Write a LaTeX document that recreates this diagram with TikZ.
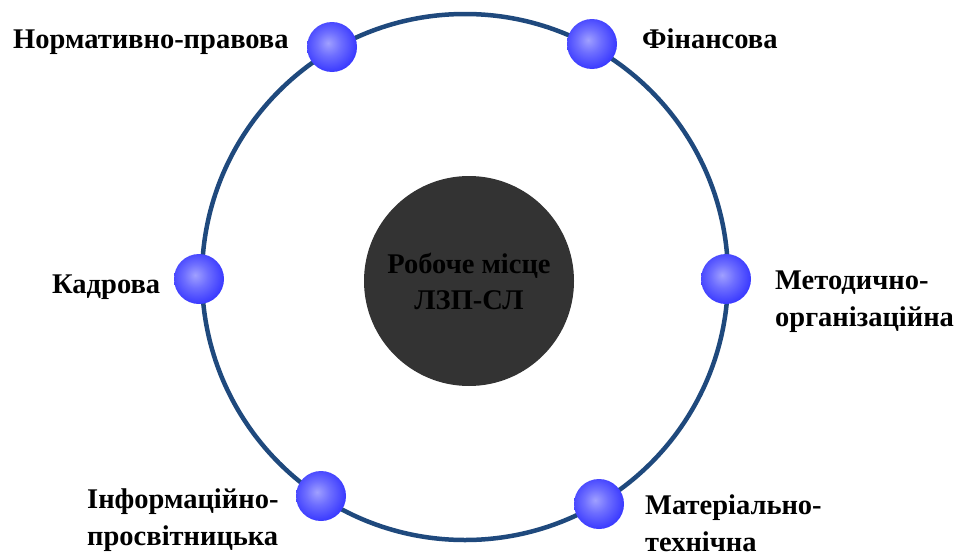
\documentclass[tikz,border=0pt]{standalone}
\usepackage{fontspec}
\setmainfont{Liberation Serif}
\definecolor{ringblue}{RGB}{31,73,125}
\definecolor{hubgray}{RGB}{51,51,51}
\definecolor{balllight}{RGB}{160,160,255}
\definecolor{ballmid}{RGB}{110,110,255}
\definecolor{balledge}{RGB}{20,20,255}
\pgfdeclareradialshading{blueball}{\pgfpoint{-4bp}{4bp}}{%
  color(0bp)=(balllight); color(12bp)=(ballmid); color(38bp)=(balledge); color(60bp)=(balledge)}
\tikzset{
  ball/.style={circle, minimum size=50pt, inner sep=0pt, shading=blueball},
  lbl/.style={font=\fontsize{28.5}{36.5}\selectfont\bfseries, inner sep=0pt, align=left, anchor=base west},
  hub/.style={circle, fill=hubgray, minimum size=210pt, inner sep=0pt,
    font=\fontsize{28.5}{36}\selectfont\bfseries, align=center, text=black}
}
\begin{document}
\begin{tikzpicture}[x=1pt,y=-1pt]
\useasboundingbox (0,0) rectangle (958,554);
\draw[ringblue, line width=4.5pt] (465,277) circle[radius=263];
\node[hub] (hub) at (469,281) {Робоче місце\\ЛЗП-СЛ};
\node[ball] (b1) at (332,47) {};
\node[ball] (b2) at (592,44) {};
\node[ball] (b3) at (199,279) {};
\node[ball] (b4) at (726,279) {};
\node[ball] (b5) at (321,496) {};
\node[ball] (b6) at (599,504) {};
\node[lbl] (t1) at (13,48) {Нормативно-правова};
\node[lbl] (t2) at (642,48) {Фінансова};
\node[lbl] (t3) at (52,293) {Кадрова};
\node[lbl] (t4) at (775,326) {Методично-\\організаційна};
\node[lbl] (t5) at (87,545) {Інформаційно-\\просвітницька};
\node[lbl] (t6) at (645,551) {Матеріально-\\технічна};
\end{tikzpicture}
\end{document}
